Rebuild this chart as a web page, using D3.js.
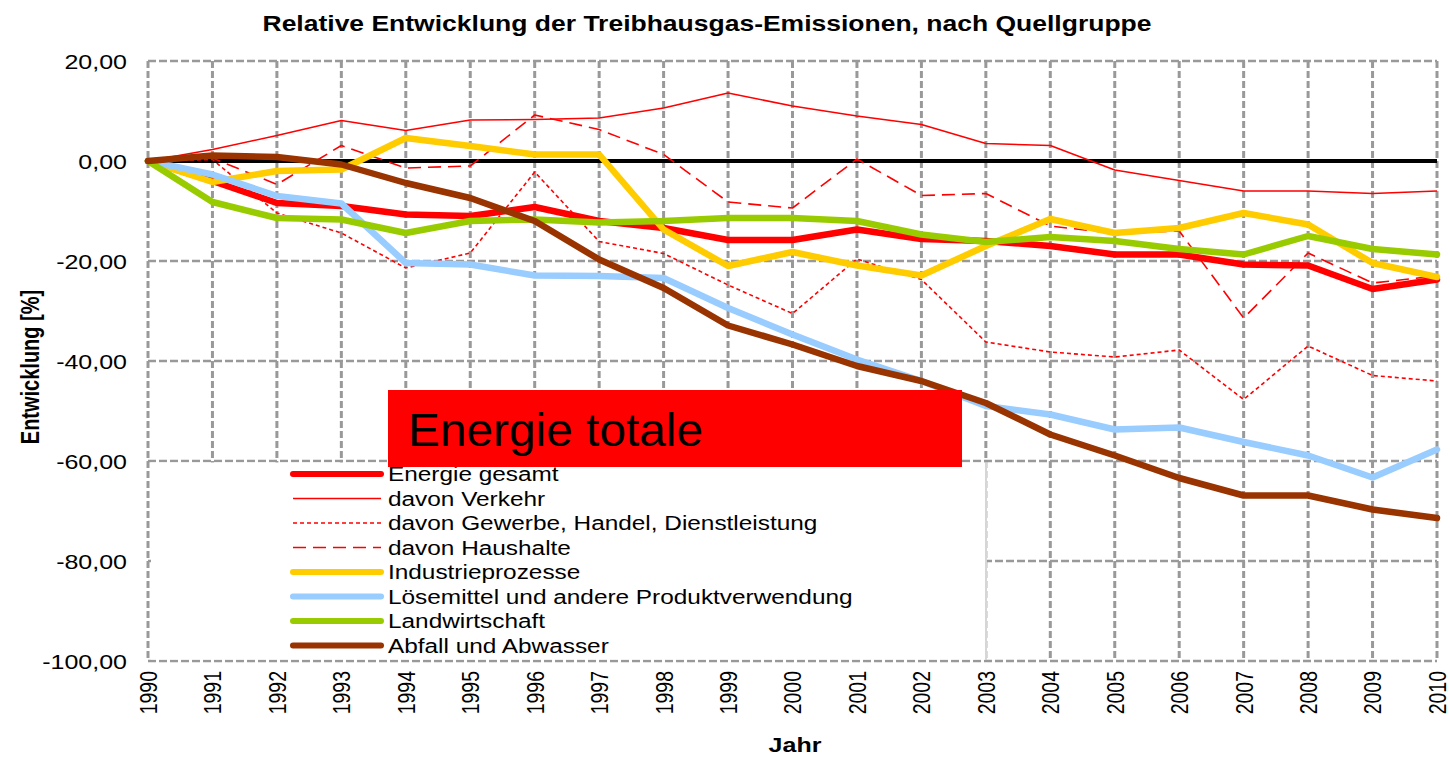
<!DOCTYPE html>
<html>
<head>
<meta charset="utf-8">
<script src="https://cdn.jsdelivr.net/npm/d3@7"></script>
<style>
  html, body { margin: 0; padding: 0; background: #fff; }
  svg { display: block; font-family: "Liberation Sans", Arial, sans-serif; }
</style>
</head>
<body>
<svg id="chart" width="1450" height="757"></svg>
<script>
// ---------- data ----------
const years = [1990,1991,1992,1993,1994,1995,1996,1997,1998,1999,2000,2001,2002,2003,2004,2005,2006,2007,2008,2009,2010];
const yTicks = [20, 0, -20, -40, -60, -80, -100];

const energieGesamt = [0, -4.0, -8.4, -9.0, -10.7, -11.0, -9.2, -12.0, -13.4, -15.8, -15.8, -13.7, -15.6, -16.0, -17.0, -18.7, -18.7, -20.7, -20.9, -25.6, -23.7];
const verkehr       = [0, 2.3, 5.1, 8.1, 6.1, 8.2, 8.3, 8.6, 10.6, 13.6, 11.0, 9.0, 7.3, 3.5, 3.1, -1.8, -3.9, -6.0, -6.0, -6.5, -6.0];
const gewerbe       = [0, 0.3, -10.4, -14.4, -21.4, -18.4, -2.2, -16.1, -18.5, -24.8, -30.5, -19.6, -23.7, -36.2, -38.2, -39.2, -37.8, -47.7, -37.0, -42.9, -44.0];
const haushalte     = [0, 0.6, -4.7, 3.1, -1.4, -1.0, 9.2, 6.3, 1.3, -8.2, -9.4, 0.4, -6.9, -6.5, -13.0, -14.5, -14.0, -31.4, -18.4, -24.4, -23.0];
const industrie     = [0, -4.2, -2.0, -1.7, 4.6, 3.0, 1.3, 1.3, -13.7, -21.0, -18.2, -20.9, -22.9, -17.0, -11.6, -14.4, -13.4, -10.4, -12.7, -20.4, -23.2];
const loesemittel   = [0, -2.7, -7.0, -8.5, -20.4, -20.7, -22.9, -23.0, -23.4, -29.4, -34.7, -39.7, -44.0, -49.0, -50.7, -53.7, -53.3, -56.2, -58.9, -63.3, -57.7];
const landwirtschaft= [0, -8.2, -11.4, -11.7, -14.4, -12.0, -11.7, -12.3, -12.0, -11.4, -11.4, -12.0, -14.7, -16.2, -15.2, -16.0, -17.6, -18.7, -15.0, -17.6, -18.7];
const abfall        = [0, 1.1, 0.8, -0.7, -4.4, -7.4, -12.0, -19.7, -25.4, -32.9, -36.7, -41.0, -44.0, -48.4, -54.7, -58.9, -63.4, -66.9, -66.9, -69.7, -71.4];

const seriesNames = ["Energie gesamt", "davon Verkehr", "davon Gewerbe, Handel, Dienstleistung", "davon Haushalte",
                     "Industrieprozesse", "Lösemittel und andere Produktverwendung", "Landwirtschaft", "Abfall und Abwasser"];
const seriesValues = [energieGesamt, verkehr, gewerbe, haushalte, industrie, loesemittel, landwirtschaft, abfall];

const titleText = "Relative Entwicklung der Treibhausgas-Emissionen, nach Quellgruppe";
const yTitle = "Entwicklung [%]";
const xTitle = "Jahr";
const overlayText = "Energie totale";

// ---------- styles ----------
const styles = [
  {color: "#FF0000", width: 6.5, dash: null},
  {color: "#FF0000", width: 1.6, dash: null},
  {color: "#FF0000", width: 1.6, dash: "4,3"},
  {color: "#FF0000", width: 1.6, dash: "13,7"},
  {color: "#FFCC00", width: 6.5, dash: null},
  {color: "#99CCFF", width: 6.5, dash: null},
  {color: "#99CC00", width: 6.5, dash: null},
  {color: "#993300", width: 6.5, dash: null}
];

const svg = d3.select("#chart");
const SX = 1.25; // horizontal stretch of text in reference

const pLeft = 148, pRight = 1437, pTop = 61, pBottom = 661;
const x = d3.scaleLinear().domain([1990, 2010]).range([pLeft, pRight]);
const y = d3.scaleLinear().domain([-100, 20]).range([pBottom, pTop]);

const loc = d3.formatLocale({decimal: ",", thousands: ".", grouping: [3], currency: ["", "€"], minus: "-"});
const fmt = loc.format(".2f");

// ---------- grid ----------
const grid = svg.append("g");
grid.selectAll("line.h").data(yTicks).join("line").attr("class", "h")
  .attr("x1", pLeft).attr("x2", pRight)
  .attr("y1", d => y(d)).attr("y2", d => y(d))
  .attr("stroke", "#999").attr("stroke-width", 2.5).attr("stroke-dasharray", "8,3");
grid.selectAll("line.v").data(years).join("line").attr("class", "v")
  .attr("x1", d => x(d)).attr("x2", d => x(d))
  .attr("y1", pTop).attr("y2", pBottom)
  .attr("stroke", "#999").attr("stroke-width", 3).attr("stroke-dasharray", "7,3");

// zero line
svg.append("line").attr("x1", x(1990)).attr("x2", x(2010))
  .attr("y1", y(0)).attr("y2", y(0)).attr("stroke", "#000").attr("stroke-width", 4);

// ---------- axes ----------
const yAxis = svg.append("g").attr("transform", "translate(127,0)")
  .call(d3.axisLeft(y).tickValues(yTicks).tickSize(0).tickFormat(fmt));
yAxis.select(".domain").remove();
yAxis.selectAll("text")
  .attr("x", 0).attr("dy", "0.36em")
  .attr("transform", `scale(${SX},1)`)
  .attr("font-size", 20).attr("fill", "#000")
  .attr("font-family", "'Liberation Sans', Arial, sans-serif");

const xAxis = svg.append("g").attr("transform", `translate(0,${pBottom})`)
  .call(d3.axisBottom(x).tickValues(years).tickSize(0).tickFormat(d3.format("d")));
xAxis.select(".domain").remove();
xAxis.selectAll("text")
  .attr("x", 0).attr("y", 0).attr("dy", "0.36em")
  .attr("text-anchor", "end")
  .attr("transform", `translate(0,10) scale(1.2,1) rotate(-90)`)
  .attr("font-size", 19.5).attr("fill", "#000")
  .attr("font-family", "'Liberation Sans', Arial, sans-serif");

// ---------- series ----------
const line = d3.line().x((d, i) => x(years[i])).y(d => y(d));
seriesValues.forEach((vals, i) => {
  const s = styles[i];
  svg.append("path").datum(vals)
    .attr("d", line)
    .attr("fill", "none")
    .attr("stroke", s.color)
    .attr("stroke-width", s.width)
    .attr("stroke-linejoin", "round")
    .attr("stroke-linecap", s.width > 3 ? "round" : "butt")
    .attr("stroke-dasharray", s.dash);
});

// ---------- legend ----------
svg.append("rect").attr("x", 151).attr("y", 462.5).attr("width", 836).attr("height", 197)
  .attr("fill", "#fff");
svg.append("line").attr("x1", 986).attr("x2", 986).attr("y1", 462).attr("y2", 660)
  .attr("stroke", "#c8c8c8").attr("stroke-width", 1.5);

const legendY0 = 474, legendStep = 24.5;
seriesNames.forEach((name, i) => {
  const s = styles[i];
  const ly = legendY0 + i * legendStep;
  svg.append("line").attr("x1", 293).attr("x2", 381).attr("y1", ly).attr("y2", ly)
    .attr("stroke", s.color).attr("stroke-width", s.width > 3 ? 6 : 1.6)
    .attr("stroke-linecap", s.width > 3 ? "round" : "butt")
    .attr("stroke-dasharray", s.dash);
  svg.append("text").attr("transform", `translate(388,${ly + 7}) scale(${SX},1)`)
    .attr("font-size", 19.5).attr("fill", "#000").text(name);
});

// ---------- overlay box ----------
svg.append("rect").attr("x", 388).attr("y", 390).attr("width", 574).attr("height", 77).attr("fill", "#FF0000");
svg.append("text").attr("transform", "translate(408,446) scale(1.04,1)")
  .attr("font-size", 46).attr("fill", "#000").text(overlayText);

// ---------- titles ----------
svg.append("text").attr("transform", `translate(707,31) scale(${SX},1)`)
  .attr("text-anchor", "middle").attr("font-size", 21.2).attr("font-weight", "bold").text(titleText);

svg.append("text").attr("transform", `translate(30,367) scale(${SX},1) rotate(-90)`)
  .attr("text-anchor", "middle").attr("dy", "0.36em")
  .attr("font-size", 20).attr("font-weight", "bold").text(yTitle);

svg.append("text").attr("transform", `translate(795,752) scale(${SX},1)`)
  .attr("text-anchor", "middle").attr("font-size", 20).attr("font-weight", "bold").text(xTitle);
</script>
</body>
</html>
